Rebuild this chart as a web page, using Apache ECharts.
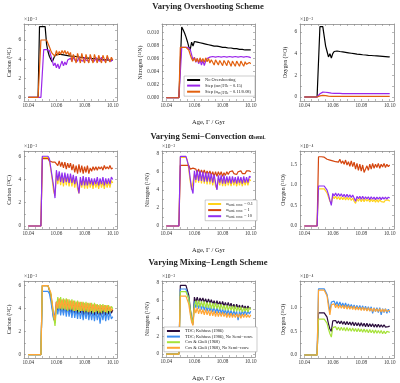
<!DOCTYPE html>
<html><head><meta charset="utf-8">
<script src="https://cdn.jsdelivr.net/npm/echarts@6/dist/echarts.min.js"></script>
<style>html,body{margin:0;padding:0;background:#fff}#c{width:400px;height:383px}</style>
</head><body><div id="c"></div>
<script>
const FONT = '"Liberation Serif", "DejaVu Serif", serif';

const AGE = [10.040,10.047,10.048,10.049,10.050, 10.051,10.052,10.053,10.054,10.055, 10.056,10.057,10.058,10.059,10.060,
 10.061,10.062,10.063,10.064,10.065, 10.066,10.067,10.068,10.069,10.070, 10.071,10.072,10.073,10.074,10.075,
 10.076,10.077,10.078,10.079,10.080, 10.081,10.082,10.083,10.084,10.085, 10.086,10.087,10.088,10.089,10.090,
 10.091,10.092,10.093,10.094,10.095, 10.096,10.097,10.098,10.099,10.100];

const X_LABELS = [10.04, 10.06, 10.08, 10.10];
const X_TICKS = [10.04,10.045,10.05,10.055,10.06,10.065,10.07,10.075,10.08,10.085,10.09,10.095,10.10];

// ---- Row 1: Varying Overshooting Scheme ----
const C1_none = [0,0,7.4,7.4,7.4, 7.4,7.4,5.6,4.8,4.3, 4.0,3.7,3.9,4.4,4.5, 4.5,4.5,4.5,4.45,4.45, 4.4,4.4,4.4,4.35,4.35,
 4.3,4.3,4.3,4.25,4.25, 4.2,4.2,4.2,4.15,4.15, 4.1,4.1,4.1,4.1,4.05, 4.05,4.05,4.0,4.0,4.0, 4.0,4.0,3.95,3.95,3.95, 3.95,3.9,3.9,3.9,3.9];
const C1_s15 = [0,0,0,0,0, 5.0,5.0,5.0,5.0,4.9, 4.4,3.9,3.3,3.6,3.1, 3.5,3.0,3.4,3.8,3.3, 3.7,3.4,3.9,3.7,4.1,
 3.8,4.2,3.9,4.1,3.8, 4.2,3.9,4.1,3.8,4.2, 3.9,4.1,3.8,4.2,3.9, 4.1,3.8,4.2,3.9,4.1, 3.8,4.2,3.9,4.1,3.8, 4.2,3.9,4.1,3.8,4.0];
const C1_s11 = [0,0,0,6.0,6.0, 6.0,6.0,6.0,5.9,5.3, 4.9,4.6,4.8,4.3,4.9, 4.4,4.8,4.5,4.9,4.6, 4.9,4.5,4.8,4.4,4.7,
 3.7,4.5,4.1,3.6,4.6, 4.1,3.6,4.6,4.0,3.6, 4.5,4.0,3.6,4.5,4.0, 3.6,4.5,4.0,3.6,4.4, 4.0,3.6,4.4,4.0,3.6, 4.4,4.0,3.7,4.2,3.9];

const N1_none = [0,0,0,0,0, 0.0108,0.0104,0.0099,0.0093,0.0086, 0.0078,0.0073,0.0085,0.0079,0.0086,
 0.0086,0.0085,0.0085,0.0084,0.0084, 0.0083,0.0083,0.0082,0.0082,0.0081, 0.0081,0.0080,0.0080,0.0079,0.0079,
 0.0079,0.0078,0.0078,0.0078,0.0077, 0.0077,0.0077,0.0076,0.0076,0.0076, 0.0076,0.0075,0.0075,0.0075,0.0075,
 0.0074,0.0074,0.0074,0.0074,0.0074, 0.0073,0.0073,0.0073,0.0073,0.0073];
const N1_s15 = [0,0,0,0,0, 0.0077,0.0077,0.0077,0.0077,0.0077, 0.0077,0.0074,0.0066,0.0058,0.0062,
 0.0054,0.0060,0.0052,0.0058,0.0050, 0.0057,0.0049,0.0056,0.0060,0.0058, 0.0062,0.0059,0.0063,0.0060,0.0062,
 0.0059,0.0063,0.0060,0.0062,0.0059, 0.0063,0.0060,0.0062,0.0059,0.0063, 0.0060,0.0062,0.0059,0.0063,0.0060,
 0.0062,0.0059,0.0063,0.0060,0.0062, 0.0059,0.0063,0.0060,0.0062,0.0061];
const N1_s11 = [0,0,0,0,0.0077, 0.0077,0.0077,0.0077,0.0077,0.0077, 0.0073,0.0066,0.0060,0.0056,0.0061,
 0.0055,0.0060,0.0054,0.0061,0.0055, 0.0060,0.0054,0.0061,0.0055,0.0060, 0.0053,0.0058,0.0055,0.0050,0.0058,
 0.0054,0.0050,0.0057,0.0053,0.0049, 0.0057,0.0053,0.0049,0.0057,0.0053, 0.0048,0.0056,0.0052,0.0048,0.0056,
 0.0052,0.0048,0.0056,0.0052,0.0048, 0.0055,0.0051,0.0048,0.0054,0.0052];

const O1_none = [0,0,0,0,0, 6.5,6.5,6.5,6.5,4.7, 4.2,3.7,4.0,3.6,4.0, 4.2,4.25,4.25,4.2,4.2, 4.18,4.16,4.14,4.12,4.1,
 4.08,4.06,4.04,4.02,4.0, 3.98,3.96,3.95,3.93,3.92, 3.9,3.89,3.88,3.86,3.85, 3.84,3.83,3.82,3.81,3.8,
 3.79,3.78,3.77,3.76,3.75, 3.74,3.73,3.72,3.71,3.7];
const O1_s15 = [0,0,0,0,0, 0.30,0.42,0.45,0.45,0.44, 0.42,0.40,0.38,0.36,0.35, 0.34,0.34,0.33,0.33,0.33, 0.33,0.32,0.32,0.32,0.32,
 0.32,0.31,0.32,0.31,0.32, 0.31,0.32,0.31,0.31,0.32, 0.31,0.31,0.32,0.31,0.31, 0.32,0.31,0.31,0.32,0.31,
 0.31,0.32,0.31,0.31,0.32, 0.31,0.31,0.32,0.31,0.31];
const O1_s11 = [0,0,0,0,0, 0.10,0.15,0.15,0.14,0.12, 0.10,0.08,0.07,0.06,0.06, 0.05,0.05,0.05,0.05,0.05, 0.05,0.05,0.05,0.05,0.05,
 0.05,0.05,0.05,0.05,0.05, 0.05,0.05,0.05,0.05,0.05, 0.05,0.05,0.05,0.05,0.05, 0.05,0.05,0.05,0.05,0.05,
 0.05,0.05,0.05,0.05,0.05, 0.05,0.05,0.05,0.05,0.05];

// ---- Row 2: Varying Semi-Convection ----
const C2_a01 = [0,0,0,0,5.9, 5.9,5.9,5.9,5.9,5.6, 4.9,4.0,3.0,2.6,4.6, 3.6,4.5,3.5,4.4,3.4, 4.4,3.5,4.3,3.4,4.3,
 3.4,4.2,3.3,4.1,3.2, 2.8,4.0,3.3,4.1,3.2, 4.0,3.2,4.0,3.3,3.9, 3.2,3.9,3.3,3.8,3.2, 3.9,3.3,3.8,3.2,3.9, 3.3,3.8,3.3,3.9,3.7];
const C2_a1 = [0,0,0,0,5.8, 5.8,5.8,5.8,5.8,5.6, 5.5,5.5,5.4,5.5,5.6, 5.2,5.6,5.1,5.5,5.0, 5.5,4.9,5.4,5.0,5.4,
 4.8,5.3,4.6,5.2,4.5, 5.3,4.6,5.2,4.5,5.1, 4.6,5.2,4.5,5.0,4.7, 5.1,4.8,5.1,4.8,5.1, 4.9,5.1,4.8,5.2,4.9, 5.1,4.9,5.2,4.9,5.0];
const C2_a10 = [0,0,0,0,6.0, 6.0,6.0,6.0,6.0,5.8, 5.0,4.2,3.4,2.4,4.8, 3.9,4.7,3.8,4.6,3.7, 4.6,3.8,4.5,3.7,4.5,
 3.7,4.4,3.6,4.3,3.6, 2.8,4.2,3.5,4.3,3.5, 4.2,3.5,4.2,3.6,4.1, 3.5,4.1,3.6,4.2,3.5, 4.1,3.6,4.2,3.5,4.1, 3.6,4.1,3.6,4.2,4.0];

const N2_a01 = [0,0,0,0,7.6, 7.6,7.6,7.6,7.6,7.3, 6.2,5.0,4.0,3.8,5.8, 4.8,6.0,4.8,5.9,4.7, 5.8,4.7,5.7,4.6,5.7,
 4.6,5.6,4.5,5.5,4.4, 4.1,5.3,4.5,5.4,4.4, 5.3,4.4,5.3,4.5,5.2, 4.4,5.2,4.5,5.1,4.4, 5.2,4.5,5.1,4.4,5.2, 4.5,5.1,4.5,5.2,5.0];
const N2_a1 = [0,0,0,0,6.7, 6.7,6.7,6.7,6.7,6.7, 6.7,6.3,6.2,6.4,6.2, 6.3,5.9,6.3,5.8,6.2, 5.8,6.2,5.7,6.1,5.7,
 6.1,5.6,6.0,5.5,6.0, 5.5,6.0,5.6,6.0,5.5, 5.9,5.6,6.0,5.7,6.0, 5.8,6.1,5.8,6.0,5.7, 6.0,5.8,6.1,5.8,6.0, 5.8,6.1,5.9,6.1,6.0];
const N2_a10 = [0,0,0,0,7.7, 7.7,7.7,7.7,7.7,7.5, 6.6,5.3,4.2,3.6,6.1, 5.1,6.2,5.0,6.1,5.0, 6.0,4.9,5.9,4.9,5.9,
 4.9,5.8,4.8,5.7,4.8, 4.0,5.6,4.8,5.6,4.7, 5.6,4.7,5.5,4.8,5.5, 4.7,5.5,4.8,5.4,4.7, 5.5,4.8,5.4,4.7,5.5, 4.8,5.4,4.8,5.5,5.4];

const O2_a01 = [0,0,0,0,0.9, 0.9,0.9,0.9,0.9,0.88, 0.8,0.7,0.6,0.55,0.72, 0.66,0.72,0.65,0.71,0.64, 0.71,0.64,0.7,0.63,0.7,
 0.63,0.69,0.62,0.68,0.6, 0.55,0.66,0.6,0.67,0.59, 0.66,0.59,0.66,0.6,0.65, 0.58,0.65,0.59,0.64,0.58,
 0.64,0.58,0.64,0.59,0.63, 0.58,0.63,0.59,0.63,0.6];
const O2_a1 = [0,0,0,0,1.68, 1.68,1.68,1.68,1.67,1.64, 1.62,1.63,1.6,1.64,1.58, 1.62,1.56,1.6,1.55,1.62, 1.52,1.58,1.5,1.6,1.48,
 1.56,1.45,1.58,1.44,1.55, 1.38,1.52,1.35,1.5,1.33, 1.48,1.3,1.26,1.46,1.35, 1.5,1.38,1.52,1.4,1.5,
 1.42,1.52,1.4,1.5,1.43, 1.52,1.42,1.5,1.44,1.48];
const O2_a10 = [0,0,0,0,0.97, 0.97,0.97,0.97,0.97,0.95, 0.87,0.76,0.62,0.5,0.79, 0.73,0.8,0.72,0.79,0.72, 0.78,0.71,0.77,0.7,0.77,
 0.7,0.76,0.69,0.75,0.68, 0.6,0.72,0.66,0.72,0.65, 0.72,0.65,0.71,0.66,0.71, 0.64,0.71,0.65,0.7,0.64,
 0.7,0.65,0.7,0.64,0.7, 0.65,0.7,0.65,0.7,0.68];

// ---- Row 3: Varying Mixing-Length Scheme ----
const C3_tdc = [0,0,0,0,6.0, 6.0,6.0,6.0,6.0,5.9, 5.2,4.2,3.2,2.8,4.6, 3.8,4.8,3.7,4.7,3.6, 4.7,3.7,4.6,3.6,4.6,
 3.5,4.6,3.6,4.5,3.5, 4.5,3.6,4.5,3.4,4.4, 3.5,4.4,3.4,4.4,3.5, 4.3,3.4,4.3,3.5,4.2, 3.4,4.3,3.5,4.2,3.4, 4.2,3.5,4.1,3.6,3.9];
const C3_tdcns = [0,0,0,0,5.5, 5.5,5.5,5.5,5.5,5.3, 4.7,3.9,3.1,3.0,4.2, 3.5,4.4,3.4,4.3,3.4, 4.3,3.3,4.2,3.3,4.1,
 3.2,4.1,3.2,4.0,3.1, 4.0,3.1,3.9,3.0,3.9, 3.1,3.9,3.0,3.8,3.0, 3.8,2.9,3.8,3.0,3.7, 2.7,3.7,3.0,3.8,2.9, 3.8,3.0,3.7,3.1,3.3];
const C3_cg = [0,0,0,0,6.0, 6.0,6.0,6.0,6.0,5.9, 5.3,4.4,3.4,2.5,4.0, 5.0,4.0,5.0,3.9,4.9, 3.9,4.9,3.8,4.8,3.9,
 4.8,3.8,4.7,3.8,4.7, 3.7,4.6,3.8,4.6,3.7, 4.6,3.7,4.5,3.7,4.5, 3.6,4.5,3.7,4.4,3.6, 4.4,3.6,4.4,3.7,4.3, 3.6,4.3,3.7,4.2,4.0];
const C3_cgns = [0,0,0,0,6.0, 6.0,6.0,6.0,6.0,6.0, 5.4,4.5,3.5,3.0,4.6, 4.0,4.9,4.0,4.8,4.0, 4.8,3.9,4.8,3.9,4.7,
 3.9,4.7,3.8,4.6,3.9, 4.6,3.8,4.6,3.8,4.5, 3.8,4.5,3.7,4.5,3.8, 4.4,3.7,4.4,3.8,4.3, 3.7,4.3,3.8,4.3,3.7, 4.3,3.8,4.2,3.8,4.0];

const N3_tdc = [0,0,0,0,7.7, 7.7,7.7,7.7,7.7,7.5, 6.6,5.2,4.0,3.5,6.4, 5.8,6.4,5.8,6.3,5.9, 6.3,5.8,6.2,5.7,6.2,
 5.7,6.1,5.6,6.0,5.5, 6.0,5.5,5.9,5.4,5.9, 5.4,5.8,5.3,5.8,5.3, 5.7,5.2,5.6,5.1,5.6, 5.1,5.5,5.0,5.5,5.1, 5.4,5.0,5.4,5.1,5.2];
const N3_tdcns = [0,0,0,0,7.3, 7.3,7.3,7.3,7.3,7.1, 6.2,4.9,3.8,3.3,5.9, 5.2,5.8,5.1,5.7,5.0, 5.6,4.9,5.5,4.8,5.4,
 4.8,5.3,4.7,5.3,4.6, 5.2,4.6,5.2,4.5,5.1, 4.5,5.0,4.4,5.0,4.4, 4.9,4.3,4.9,4.4,4.8, 3.8,4.8,4.3,4.9,4.4, 4.9,4.4,4.8,4.5,4.8];
const N3_cg = [0,0,0,0,7.0, 7.0,7.0,7.0,7.0,6.9, 6.2,5.0,4.0,3.5,5.4, 6.0,5.3,6.0,5.3,5.9, 5.3,5.9,5.2,5.8,5.2,
 5.8,5.1,5.7,5.1,5.7, 5.1,5.6,5.0,5.6,5.0, 5.5,4.9,5.5,4.9,5.4, 4.9,5.4,4.8,5.4,4.8, 5.3,4.8,5.3,4.7,5.2, 4.8,5.2,4.7,5.2,5.0];
const N3_cgns = [0,0,0,0,6.5, 6.5,6.5,6.5,6.5,6.4, 5.6,4.5,3.6,3.2,5.2, 4.6,5.2,4.5,5.1,4.5, 5.0,4.4,5.0,4.4,4.9,
 4.3,4.9,4.3,4.8,4.2, 4.8,4.2,4.7,4.2,4.7, 4.2,4.6,4.1,4.6,4.1, 4.6,4.1,4.5,4.1,4.5, 4.1,4.5,4.0,4.5,4.1, 4.5,4.1,4.4,4.1,4.4];

const O3_tdc = [0,0,0,0,0.89, 0.89,0.89,0.89,0.89,0.88, 0.8,0.66,0.55,0.5,0.72, 0.68,0.73,0.67,0.72,0.66, 0.72,0.65,0.71,0.64,0.71,
 0.64,0.7,0.63,0.7,0.62, 0.69,0.62,0.68,0.61,0.68, 0.61,0.67,0.6,0.67,0.6, 0.66,0.6,0.66,0.59,0.65,
 0.59,0.65,0.59,0.64,0.59, 0.64,0.59,0.63,0.6,0.61];
const O3_tdcns = [0,0,0,0,1.4, 1.4,1.4,1.4,1.4,1.38, 1.28,1.1,0.92,1.12,1.08, 1.14,1.05,1.13,1.04,1.12, 1.03,1.1,1.02,1.1,1.01,
 1.08,1.0,1.07,0.99,1.06, 0.98,1.05,0.97,1.05,0.96, 1.04,0.95,1.03,0.94,1.02, 0.93,1.02,0.88,1.0,0.92,
 1.0,0.9,1.0,0.85,0.98, 0.9,0.98,0.88,0.97,0.9];
const O3_cg = [0,0,0,0,0.76, 0.76,0.76,0.76,0.76,0.75, 0.67,0.55,0.45,0.38,0.58, 0.54,0.6,0.53,0.59,0.52, 0.59,0.52,0.58,0.51,0.58,
 0.51,0.57,0.5,0.57,0.5, 0.56,0.49,0.56,0.49,0.55, 0.48,0.55,0.48,0.54,0.47, 0.54,0.47,0.53,0.46,0.53,
 0.46,0.52,0.46,0.52,0.45, 0.51,0.45,0.5,0.46,0.48];
const O3_cgns = [0,0,0,0,1.37, 1.37,1.37,1.37,1.37,1.36, 1.25,1.02,0.85,1.06,1.02, 1.08,1.0,1.07,0.99,1.06, 0.99,1.05,0.98,1.05,0.97,
 1.04,0.97,1.03,0.96,1.03, 0.95,1.02,0.95,1.01,0.94, 1.01,0.94,1.0,0.93,1.0, 0.93,0.99,0.92,0.99,0.92,
 0.98,0.92,0.98,0.91,0.97, 0.91,0.97,0.92,0.96,0.95];

// series definitions per row
const ROW_SERIES = [
  [ {name:'No Overshooting', color:'#000000'}, {name:'Step 0.15', color:'#9b27ea'}, {name:'Step 0.11/0.08', color:'#e2600e'} ],
  [ {name:'a0.1', color:'#ffd21a'}, {name:'a1', color:'#d4450e'}, {name:'a10', color:'#8f2ff0'} ],
  [ {name:'TDC', color:'#2b0d3d'}, {name:'TDC NS', color:'#3d8ef0'}, {name:'CG', color:'#a6e23a'}, {name:'CG NS', color:'#ffa535'} ]
];
const PANEL_DATA = [
  [C1_none, C1_s15, C1_s11], [N1_none, N1_s15, N1_s11], [O1_none, O1_s15, O1_s11],
  [C2_a01, C2_a1, C2_a10], [N2_a01, N2_a1, N2_a10], [O2_a01, O2_a1, O2_a10],
  [C3_tdc, C3_tdcns, C3_cg, C3_cgns], [N3_tdc, N3_tdcns, N3_cg, N3_cgns], [O3_tdc, O3_tdcns, O3_cg, O3_cgns]
];
const Y_LABELS = [
  [0,2,4,6], [0,0.002,0.004,0.006,0.008,0.010], [0,2,4,6],
  [0,2,4,6], [0,2,4,6,8], [0,0.5,1.0,1.5],
  [0,2,4,6], [0,2,4,6,8], [0,0.5,1.0]
];
const Y_TICKS = [
  [0,1,2,3,4,5,6,7], [0,0.001,0.002,0.003,0.004,0.005,0.006,0.007,0.008,0.009,0.010,0.011], [0,1,2,3,4,5,6],
  [0,1,2,3,4,5,6], [0,1,2,3,4,5,6,7,8], [0,0.25,0.5,0.75,1.0,1.25,1.5,1.75],
  [0,1,2,3,4,5,6], [0,1,2,3,4,5,6,7,8], [0,0.25,0.5,0.75,1.0,1.25,1.5]
];
const Y_DEC = [0,3,0, 0,0,1, 0,0,1];
const Y_RANGE = [
  [-0.37,7.67], [-0.0005,0.01127], [-0.37,6.74],
  [-0.26,6.45], [-0.33,8.3], [-0.073,1.82],
  [-0.29,6.4], [-0.33,8.2], [-0.063,1.565]
];
const Y_NAMES = ['Carbon (¹²C)', 'Nitrogen (¹⁴N)', 'Oxygen (¹⁶O)'];
const MULT = ['×10⁻³', '', '×10⁻³', '×10⁻³', '×10⁻³', '×10⁻⁴', '×10⁻³', '×10⁻³', '×10⁻⁴'];
const TITLES = [
  '{t|Varying Overshooting Scheme}',
  '{t|Varying Semi−Convection α}{s|semi.}',
  '{t|Varying Mixing−Length Scheme}'
];

const ROW_TOP = [24, 151, 281], ROW_H = [77, 78, 77];
const COL_LEFT = [24, 162, 300], COL_W = [93, 93, 94];
const AX = '#8a8a8a';

const grids = [], xAxes = [], yAxes = [], series = [], graphics = [];
for (let p = 0; p < 9; p++) {
  const r = Math.floor(p / 3), c = p % 3;
  grids.push({left: COL_LEFT[c], top: ROW_TOP[r], width: COL_W[c], height: ROW_H[r], containLabel: false});
  const xb = {
    gridIndex: p, type: 'value', min: 10.037, max: 10.103, position: 'bottom',
    axisLine: {show: true, onZero: false, lineStyle: {color: AX, width: 0.8}},
    axisTick: {show: true, inside: true, length: 2, customValues: X_TICKS, lineStyle: {color: AX, width: 0.6}},
    axisLabel: {show: true, customValues: X_LABELS, fontSize: 5.2, margin: 2.5, color: '#333', fontFamily: FONT,
      formatter: v => v.toFixed(2)},
    splitLine: {show: false}
  };
  if (c === 1) {
    xb.name = 'Age, Γ / Gyr'; xb.nameLocation = 'middle'; xb.nameGap = 18;
    xb.nameTextStyle = {fontSize: 6.5, color: '#222', fontFamily: FONT};
  }
  xAxes.push(xb);
  xAxes.push({
    gridIndex: p, type: 'value', min: 10.037, max: 10.103, position: 'top',
    axisLine: {show: true, onZero: false, lineStyle: {color: AX, width: 0.8}},
    axisTick: {show: true, inside: true, length: 2, customValues: X_TICKS, lineStyle: {color: AX, width: 0.6}},
    axisLabel: {show: false}, splitLine: {show: false}
  });
  const dec = Y_DEC[p];
  yAxes.push({
    gridIndex: p, type: 'value', min: Y_RANGE[p][0], max: Y_RANGE[p][1], position: 'left',
    axisLine: {show: true, onZero: false, lineStyle: {color: AX, width: 0.8}},
    axisTick: {show: true, inside: true, length: 2, customValues: Y_TICKS[p], lineStyle: {color: AX, width: 0.6}},
    axisLabel: {show: true, customValues: Y_LABELS[p], fontSize: 5.2, margin: 3, color: '#333', fontFamily: FONT,
      formatter: v => v.toFixed(dec)},
    splitLine: {show: false},
    name: Y_NAMES[c], nameLocation: 'middle', nameGap: (dec === 3 ? 15 : (dec === 1 ? 14 : 12)),
    nameTextStyle: {fontSize: 5.8, color: '#222', fontFamily: FONT}
  });
  yAxes.push({
    gridIndex: p, type: 'value', min: Y_RANGE[p][0], max: Y_RANGE[p][1], position: 'right',
    axisLine: {show: true, onZero: false, lineStyle: {color: AX, width: 0.8}},
    axisTick: {show: true, inside: true, length: 2, customValues: Y_TICKS[p], lineStyle: {color: AX, width: 0.6}},
    axisLabel: {show: false}, splitLine: {show: false}
  });
  const defs = ROW_SERIES[r];
  PANEL_DATA[p].forEach((vals, k) => {
    series.push({
      type: 'line', name: defs[k].name, xAxisIndex: 2 * p, yAxisIndex: 2 * p,
      data: AGE.map((a, i) => [a, vals[i]]),
      showSymbol: false, symbol: 'none', animation: false, clip: true,
      lineStyle: {color: defs[k].color, width: 1.2},
      itemStyle: {color: defs[k].color}
    });
  });
  if (MULT[p]) {
    graphics.push({type: 'text', left: COL_LEFT[c], top: ROW_TOP[r] - 7,
      style: {text: MULT[p], fontSize: 5.5, fill: '#333', fontFamily: FONT}});
  }
}

const titleTops = [2, 132, 258];
const titles = TITLES.map((t, i) => ({
  text: t, left: 208, textAlign: 'center', top: titleTops[i], padding: 0,
  textStyle: {rich: {
    t: {fontSize: 8.6, fontWeight: 'bold', color: '#222', fontFamily: FONT},
    s: {fontSize: 5.6, fontWeight: 'bold', color: '#222', fontFamily: FONT, verticalAlign: 'bottom', padding: [3, 0, 0, 0]}
  }}
}));

const richLeg = {
  t: {fontSize: 4.4, color: '#222', fontFamily: FONT},
  s: {fontSize: 3.2, color: '#222', fontFamily: FONT, verticalAlign: 'bottom', padding: [2, 0, 0, 0]}
};
const LEG_TEXT = {
  'No Overshooting': '{t|No Overshooting}',
  'Step 0.15': '{t|Step (α}{s|ov,H/He}{t| = 0.15)}',
  'Step 0.11/0.08': '{t|Step (α}{s|ov,H/He}{t| = 0.11/0.08)}',
  'a0.1': '{t|α}{s|semi. conv.}{t| = 0.1}',
  'a1': '{t|α}{s|semi. conv.}{t| = 1}',
  'a10': '{t|α}{s|semi. conv.}{t| = 10}',
  'TDC': '{t|TDC; Kuhfuss (1986)}',
  'TDC NS': '{t|TDC; Kuhfuss (1986), No Semi−conv.}',
  'CG': '{t|Cox & Giuli (1968)}',
  'CG NS': '{t|Cox & Giuli (1968), No Semi−conv.}'
};
const legendBase = {
  orient: 'vertical', itemWidth: 13, itemHeight: 2, itemGap: 1.6, padding: [2, 4, 2, 3],
  borderColor: '#999', borderWidth: 0.5, backgroundColor: '#fff', selectedMode: false, icon: 'rect',
  textStyle: {fontSize: 4.4, fontFamily: FONT, color: '#222', rich: richLeg},
  formatter: n => LEG_TEXT[n]
};
const legends = [
  Object.assign({}, legendBase, {right: 145, top: 76, data: ROW_SERIES[0].map(d => d.name)}),
  Object.assign({}, legendBase, {right: 143, top: 200, data: ROW_SERIES[1].map(d => d.name)}),
  Object.assign({}, legendBase, {right: 143, top: 327, data: ROW_SERIES[2].map(d => d.name)})
];

const chart = echarts.init(document.getElementById('c'), null, {renderer: 'canvas'});
chart.setOption({
  backgroundColor: '#fff',
  animation: false,
  textStyle: {fontFamily: FONT},
  title: titles,
  legend: legends,
  grid: grids,
  xAxis: xAxes,
  yAxis: yAxes,
  series: series,
  graphic: graphics
});
</script>
</body></html>
